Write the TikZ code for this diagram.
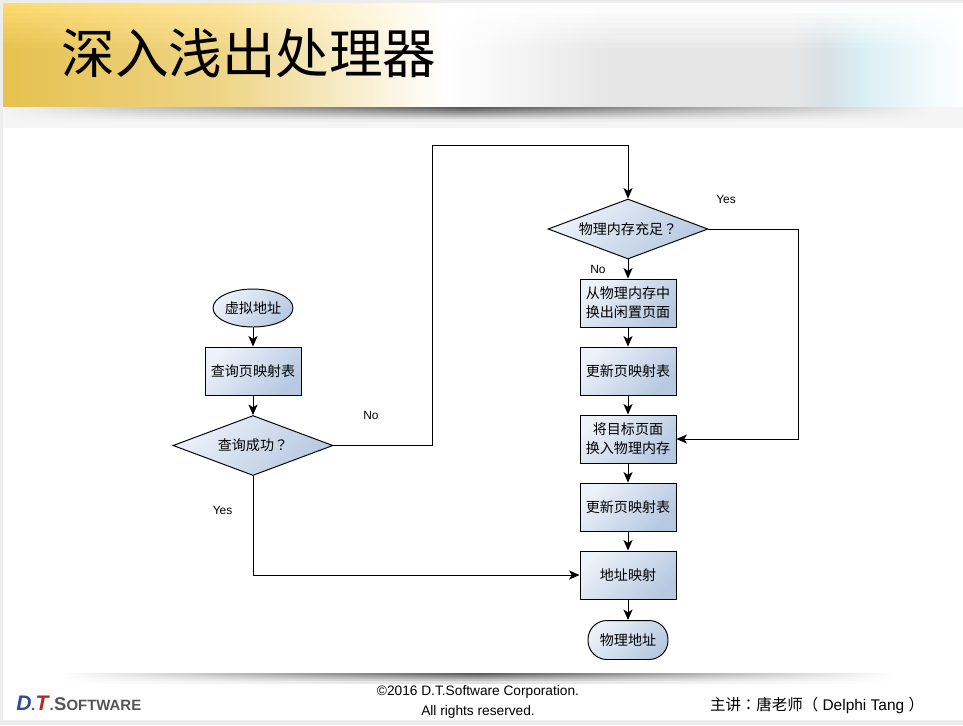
\documentclass[tikz,border=0pt]{standalone}
\usepackage{fontspec}
\setmainfont{Liberation Sans}
\newfontfamily\cjk{Noto Sans CJK SC}
\newfontfamily\cjkmid{Noto Sans CJK TC}
\usetikzlibrary{positioning,arrows.meta,shapes.geometric}
\definecolor{boxlight}{HTML}{EDF1F9}
\definecolor{boxdark}{HTML}{B6C9E1}
\definecolor{goldtop}{HTML}{FDD96E}
\definecolor{goldlow}{HTML}{E6C14F}
\definecolor{bandgray}{HTML}{E6E6E6}
\definecolor{bandsteel}{HTML}{D8E0E4}
\definecolor{bandcyan}{HTML}{D9EEF3}
\definecolor{shadowcore}{HTML}{1E1E1E}
\definecolor{shadowbase}{HTML}{F5F5F5}
\definecolor{logoblue}{HTML}{2F4BA0}
\definecolor{logored}{HTML}{B8281E}
\definecolor{logogray}{HTML}{555555}

\begin{document}
\begin{tikzpicture}[
  x=0.02cm, y=-0.02cm,
  proc/.style={draw, line width=0.55pt, top color=boxlight, bottom color=boxdark, shading angle=45,
               minimum height=0.96cm, minimum width=1.92cm, inner sep=0pt,
               align=center, font=\cjk\fontsize{8}{10.8}\selectfont},
  decide/.style={proc, diamond, aspect=2.67, minimum width=3.2cm, minimum height=1.2cm},
  oval/.style={proc, ellipse, minimum width=1.6cm, minimum height=0.76cm},
  term/.style={proc, rounded corners=0.38cm, minimum width=1.6cm, minimum height=0.78cm},
  flow/.style={line width=0.55pt, -{Stealth[length=6pt, width=5.2pt, inset=1.6pt]}},
  lbl/.style={font=\fontsize{6.8}{8}\selectfont, inner sep=0pt},
  foot/.style={font=\fontsize{7.8}{8}\selectfont, inner sep=0pt},
]
\useasboundingbox (0,0) rectangle (963,725);
\fill[black!7] (0,0) rectangle (963,725);
\fill[white] (3,3) rectangle (963,720);

% header band
\fill[shadowbase] (3,107) rectangle (963,128);
\foreach \ya in {3,8,...,103} {
  \pgfmathtruncatemacro{\mixa}{min(100,(\ya-3)*100/45)}
  \pgfmathsetmacro{\yb}{min(106,\ya+5.5)}
  \shade[left color=goldlow!\mixa!goldtop, right color=white, middle color=goldlow!\mixa!goldtop!68!white]
    (3,\ya) rectangle (445,\yb);
  \foreach \xa/\xb/\ca/\cb in {445/610/white/bandgray, 610/790/bandgray/bandgray,
      790/825/bandgray/bandsteel, 825/860/bandsteel/bandcyan, 860/963/bandcyan/white} {
    \shade[left color=\ca!\mixa!white, right color=\cb!\mixa!white] (\xa,\ya) rectangle (\xb+0.5,\yb);
  }
}
\foreach \ya in {107,109,...,119} {
  \pgfmathtruncatemacro{\mixa}{72-(\ya-107)*72/13}
  \shade[left color=shadowbase, right color=shadowbase, middle color=shadowcore!\mixa!shadowbase] (3,\ya) rectangle (930,\ya+2);
}
\node[inner sep=0pt, font=\cjk\fontsize{30.5}{30}\selectfont] (title) at (249,53) {深入浅出处理器};

% footer
\foreach \ya in {673,675,...,681} {
  \pgfmathtruncatemacro{\mixa}{72-(\ya-673)*72/10}
  \shade[left color=white, right color=white, middle color=shadowcore!\mixa!white] (60,\ya) rectangle (895,\ya+2);
}
\node[inner sep=0pt, anchor=west, text=logogray, font=\bfseries\fontsize{8.5}{10}\selectfont] (logo) at (16,703)
  {\textcolor{logoblue}{\textit{\fontsize{12}{12}\selectfont D}}\textit{.}\textcolor{logored}{\textit{\fontsize{12}{12}\selectfont T}}\textit{.}{\fontsize{10.5}{10}\selectfont S}OFTWARE};
\node[foot] (copyline) at (478,691.5) {©2016 D.T.Software Corporation.};
\node[foot] (rights) at (478,711.5) {All rights reserved.};
\node[inner sep=0pt, font=\fontsize{8.8}{10}\selectfont] (speaker) at (817,705) {{\cjk 主讲}{\cjkmid ：}{\cjk 唐老师}{\cjkmid （} Delphi Tang {\cjkmid ）}};

% left column
\node[oval] (vaddr) at (253,308) {\raisebox{-1pt}{虚拟地址}};
\node[proc] (lookup) at (253,371) {\raisebox{-1pt}{查询页映射表}};
\node[decide] (hit) at (253,445.5) {\raisebox{-1pt}{查询成功{\cjkmid ？}}};

% right column
\node[decide] (enough) at (628,229) {\raisebox{-1pt}{物理内存充足{\cjkmid ？}}};
\node[proc] (evict) at (628,303) {从物理内存中\\换出闲置页面};
\node[proc] (updatea) at (628,371) {\raisebox{-1pt}{更新页映射表}};
\node[proc] (swapin) at (628,439) {将目标页面\\换入物理内存};
\node[proc] (updateb) at (628,507) {\raisebox{-1pt}{更新页映射表}};
\node[proc] (mapaddr) at (628,575) {\raisebox{-1pt}{地址映射}};
\node[term] (paddr) at (628,640) {\raisebox{-1pt}{物理地址}};

\coordinate (noup) at (432,145);
\coordinate (yesdown) at (798,300);

\draw[flow] (vaddr) -- (lookup);
\draw[flow] (lookup) -- (hit);
\draw[flow] (hit.east) -| (noup) -| (enough.north);
\draw[flow] (hit.south) |- (mapaddr.west);
\draw[flow] (enough) -- (evict);
\draw[flow] (enough.east) -| (yesdown) |- (swapin.east);
\draw[flow] (evict) -- (updatea);
\draw[flow] (updatea) -- (swapin);
\draw[flow] (swapin) -- (updateb);
\draw[flow] (updateb) -- (mapaddr);
\draw[flow] (mapaddr) -- (paddr);

\node[lbl] (hitno) at (371,415.5) {No};
\node[lbl] (hityes) at (222.5,510.5) {Yes};
\node[lbl] (enoughyes) at (726,199.5) {Yes};
\node[lbl] (enoughno) at (598,269.5) {No};
\end{tikzpicture}
\end{document}
